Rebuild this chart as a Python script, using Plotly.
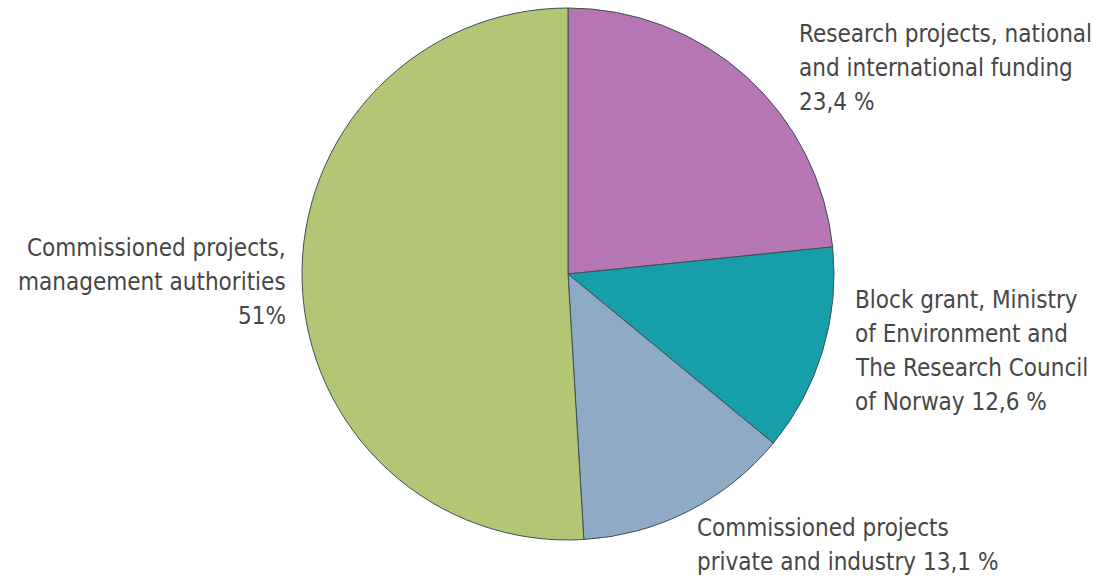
import plotly.graph_objects as go

# Funding sources, shares in percent (clockwise from 12 o'clock)
sources = [
    "Research projects, national and international funding",
    "Block grant, Ministry of Environment and The Research Council of Norway",
    "Commissioned projects private and industry",
    "Commissioned projects, management authorities",
]
shares = [23.4, 12.6, 13.1, 51.0]
share_labels = ["23,4 %", "12,6 %", "13,1 %", "51%"]
colors = ["#B676B4", "#179EAB", "#8FAAC5", "#B3C676"]

W, H = 1105, 581
TEXT = "#464646"
FONT = "DejaVu Sans Condensed, Liberation Sans Narrow, Arial Narrow, sans-serif"
FONT_SIZE = 24
LINE_GAP = 34  # px between baselines

# pie centre and radius in pixels
cx, cy, r = 568, 274, 266

fig = go.Figure(go.Pie(
    labels=sources,
    values=shares,
    sort=False,
    direction="clockwise",
    rotation=0,
    marker=dict(colors=colors, line=dict(color="#3F4F55", width=1)),
    textinfo="none",
    hoverinfo="label+percent",
    showlegend=False,
    domain=dict(x=[(cx - r) / W, (cx + r) / W],
                y=[(H - cy - r) / H, (H - cy + r) / H]),
))

# label text, split into the lines as set
label_lines = [
    ["Research projects, national", "and international funding", share_labels[0]],
    ["Block grant, Ministry", "of Environment and", "The Research Council",
     "of Norway " + share_labels[1]],
    ["Commissioned projects", "private and industry " + share_labels[2]],
    ["Commissioned projects,", "management authorities", share_labels[3]],
]
# (x of text edge, baseline of first line, horizontal anchor)
placements = [
    (797, 43, "left"),
    (853, 309, "left"),
    (695, 537, "left"),
    (288, 257, "right"),
]

for lines, (x, base, xa) in zip(label_lines, placements):
    for i, line in enumerate(lines):
        y_mid = base + i * LINE_GAP - 9
        fig.add_annotation(
            x=x / W, y=1 - y_mid / H, xref="paper", yref="paper",
            xanchor=xa, yanchor="middle", align=xa,
            text=line, showarrow=False,
            font=dict(family=FONT, size=FONT_SIZE, color=TEXT),
        )

fig.update_layout(
    width=W, height=H,
    margin=dict(l=0, r=0, t=0, b=0),
    paper_bgcolor="white",
    plot_bgcolor="white",
)

fig.write_html("out.html")
